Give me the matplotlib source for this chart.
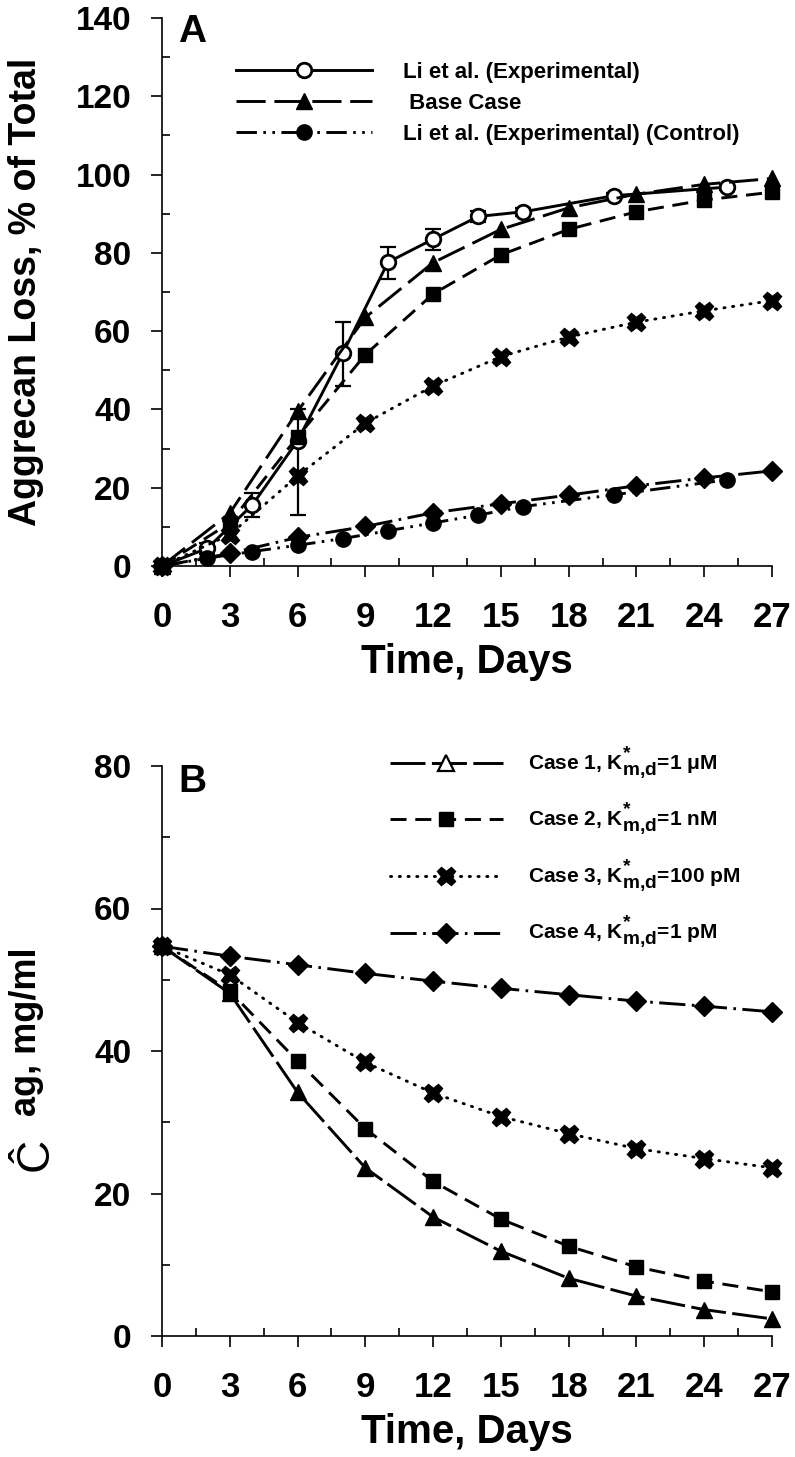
import matplotlib
matplotlib.use("Agg")
import matplotlib.pyplot as plt
import matplotlib._mathtext as mathtext_mod
from matplotlib.lines import Line2D
from matplotlib.ticker import MultipleLocator

# ---- data ----
days = [0, 3, 6, 9, 12, 15, 18, 21, 24, 27]
days_li = [0, 2, 4, 6, 8, 10, 12, 14, 16, 20, 25]

# panel A: aggrecan loss, % of total
li_exp = [0, 4.5, 15.6, 32.0, 54.3, 77.6, 83.5, 89.3, 90.5, 94.6, 96.8]
li_exp_err_lo = [0, 1.5, 3.0, 19.0, 8.3, 4.3, 2.8, 1.5, 1.0, 0.8, 0.8]
li_exp_err_hi = [0, 1.5, 3.0, 8.0, 8.1, 4.0, 2.6, 1.5, 1.0, 0.8, 0.8]
li_control = [0, 2.0, 3.7, 5.3, 7.0, 9.0, 11.0, 13.0, 15.2, 18.2, 22.0]
base_case = [0, 13.5, 39.5, 63.5, 77.5, 86.0, 91.5, 95.0, 97.5, 99.0]
case2_loss = [0, 11.0, 33.0, 54.0, 69.5, 79.5, 86.0, 90.5, 93.5, 95.5]
case3_loss = [0, 8.0, 23.0, 36.5, 46.0, 53.5, 58.5, 62.3, 65.2, 67.8]
case4_loss = [0, 3.2, 7.3, 10.1, 13.6, 15.9, 18.1, 20.5, 22.5, 24.3]

# panel B: aggrecan concentration, mg/ml
case1_conc = [54.7, 48.1, 34.2, 23.6, 16.7, 11.9, 8.1, 5.6, 3.7, 2.4]
case2_conc = [54.7, 48.4, 38.6, 29.1, 21.7, 16.4, 12.6, 9.7, 7.7, 6.2]
case3_conc = [54.7, 50.7, 44.0, 38.4, 34.1, 30.8, 28.4, 26.3, 24.9, 23.6]
case4_conc = [54.7, 53.3, 52.1, 50.9, 49.8, 48.8, 47.9, 47.0, 46.3, 45.5]

legend_a = ["Li et al. (Experimental)", " Base Case",
            "Li et al. (Experimental) (Control)"]
legend_b = [r"Case 1, K$^{*}_{m{,}d}$=1 μM", r"Case 2, K$^{*}_{m{,}d}$=1 nM",
            r"Case 3, K$^{*}_{m{,}d}$=100 pM", r"Case 4, K$^{*}_{m{,}d}$=1 pM"]
x_ticks = list(range(0, 28, 3))

plt.rcParams['font.family'] = ['Liberation Sans', 'DejaVu Sans']
plt.rcParams['font.weight'] = 'bold'
plt.rcParams['mathtext.fontset'] = 'custom'
plt.rcParams['mathtext.rm'] = 'Liberation Sans:bold'
plt.rcParams['mathtext.it'] = 'Liberation Sans:bold'
plt.rcParams['mathtext.bf'] = 'Liberation Sans:bold'
plt.rcParams['mathtext.default'] = 'regular'
# subscripts in the original legend are almost full size
mathtext_mod.SHRINK_FACTOR = 0.92

W, H = 795, 1457


def fx(px):
    return px / W


def fy(py):
    return 1 - py / H


# line styles
LW = 2.1
st_li = dict(color='k', lw=LW, ls='-', marker='o', ms=10.5, mfc='white', mew=2.0)
st_base = dict(color='k', lw=LW, ls=(0, (10, 3)), marker='^', ms=12)
st_c1 = dict(color='k', lw=LW, ls=(0, (12, 2.2)), marker='^', ms=12)
st_c2 = dict(color='k', lw=LW, ls=(0, (5.5, 3)), marker='s', ms=10)
st_c3 = dict(color='k', lw=LW, ls=(0, (0.4, 2.6)), marker='X', ms=13,
             dash_capstyle='round')
st_c4 = dict(color='k', lw=LW, ls=(0, (9, 2.2, 0.9, 2.2)), marker='D', ms=10)
st_ctrl = dict(color='k', lw=LW, ls=(0, (7, 2.2, 0.9, 2.2, 0.9, 2.2)),
               marker='o', ms=11)


def style_axes(ax, ymax, ystep):
    ax.set_xlim(0, 27)
    ax.set_ylim(0, ymax)
    ax.spines['top'].set_visible(False)
    ax.spines['right'].set_visible(False)
    for s in ('left', 'bottom'):
        ax.spines[s].set_linewidth(1.2)
    ax.set_xticks(x_ticks)
    ax.xaxis.set_minor_locator(MultipleLocator(1.5))
    ax.yaxis.set_major_locator(MultipleLocator(ystep))
    ax.yaxis.set_minor_locator(MultipleLocator(ystep / 2))
    ax.tick_params(which='major', direction='out', length=8, width=1.2)
    ax.tick_params(which='minor', direction='in', length=6, width=1.2)
    ax.tick_params(axis='x', which='major', pad=17)
    ax.tick_params(axis='y', which='major', pad=14)
    for lab in ax.get_xticklabels():
        lab.set_fontsize(25)
        lab.set_fontweight('bold')
    for lab in ax.get_yticklabels():
        lab.set_fontsize(24)
        lab.set_fontweight('bold')
    ax.set_xlabel("Time, Days", fontsize=29, fontweight='bold')


fig = plt.figure(figsize=(W / 100, H / 100), dpi=100)

# ---------------- panel A ----------------
ax1 = fig.add_axes([fx(162), fy(566), fx(610), 548 / H])
ax1.errorbar(days_li, li_exp, yerr=[li_exp_err_lo, li_exp_err_hi], fmt='none',
             ecolor='k', elinewidth=1.6, capsize=6, capthick=1.6, clip_on=False,
             zorder=2)
h_li, = ax1.plot(days_li, li_exp, clip_on=False, zorder=2.5, **st_li)
h_base, = ax1.plot(days, base_case, clip_on=False, zorder=3, **st_base)
ax1.plot(days, case2_loss, clip_on=False, zorder=3, **st_c2)
ax1.plot(days, case3_loss, clip_on=False, zorder=3, **st_c3)
ax1.plot(days, case4_loss, clip_on=False, zorder=3, **st_c4)
h_ctrl, = ax1.plot(days_li, li_control, clip_on=False, zorder=3, **st_ctrl)
style_axes(ax1, 140, 20)
ax1.set_ylabel("Aggrecan Loss, % of Total", fontsize=27, fontweight='bold')
ax1.yaxis.set_label_coords(fx(44), fy(292), transform=fig.transFigure)
ax1.xaxis.set_label_coords(fx(467), fy(643), transform=fig.transFigure)
ax1.legend([h_li, h_base, h_ctrl], legend_a, loc='upper left',
           bbox_to_anchor=(fx(236), fy(62)), bbox_transform=fig.transFigure,
           frameon=False, fontsize=16, handlelength=6.1, handletextpad=1.4,
           labelspacing=0.45, borderpad=0, borderaxespad=0)
fig.text(fx(178), fy(42), "A", fontsize=28, fontweight='bold')

# ---------------- panel B ----------------
ax2 = fig.add_axes([fx(162), fy(1336), fx(610), 570 / H])
ax2.plot(days, case1_conc, clip_on=False, zorder=3, **st_c1)
ax2.plot(days, case2_conc, clip_on=False, zorder=3, **st_c2)
ax2.plot(days, case3_conc, clip_on=False, zorder=3, **st_c3)
ax2.plot(days, case4_conc, clip_on=False, zorder=3, **st_c4)
style_axes(ax2, 80, 20)
ax2.xaxis.set_label_coords(fx(467), fy(1413), transform=fig.transFigure)
ax2.set_ylabel("ag, mg/ml", fontsize=26, fontweight='bold')
ax2.yaxis.set_label_coords(fx(44), fy(1032), transform=fig.transFigure)
fig.text(fx(58), fy(1154), "Ĉ", fontsize=33, fontweight='normal',
         rotation=90, rotation_mode='anchor', ha='center', va='bottom')
proxies = [Line2D([], [], **dict(st_c1, mfc='white', mew=1.6)),
           Line2D([], [], **st_c2), Line2D([], [], **st_c3),
           Line2D([], [], **st_c4)]
ax2.legend(proxies, legend_b, loc='upper left',
           bbox_to_anchor=(fx(390), fy(744)), bbox_transform=fig.transFigure,
           frameon=False, fontsize=15, handlelength=5.4, handletextpad=1.2,
           labelspacing=0.95, borderpad=0, borderaxespad=0)
fig.text(fx(178), fy(792), "B", fontsize=28, fontweight='bold')

fig.savefig("out.png", dpi=100)
